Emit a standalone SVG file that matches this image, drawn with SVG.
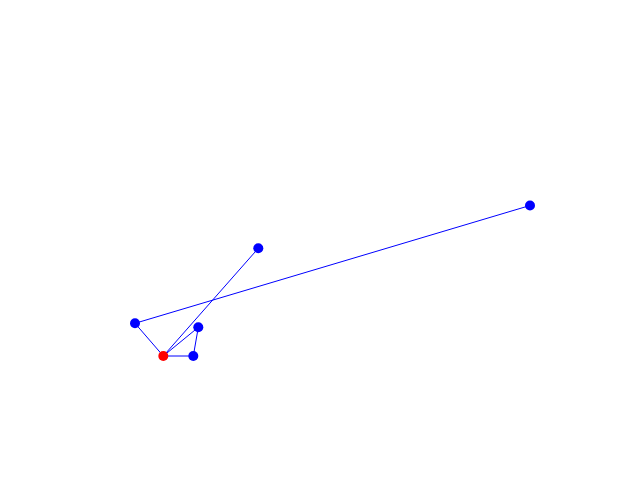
<svg xmlns="http://www.w3.org/2000/svg" width="640" height="480" viewBox="0 0 640 480">
<style>
.e{stroke:#0000ff;stroke-width:1;fill:none}
.n{fill:#0000ff}
.r{fill:#ff0000}
</style>
<rect width="640" height="480" fill="#fff"/>
<g id="edges">
<line class="e" x1="530" y1="205.5" x2="135" y2="323.3"/>
<line class="e" x1="135" y1="323.3" x2="163.3" y2="356"/>
<line class="e" x1="163.3" y1="356" x2="258.3" y2="248.3"/>
<line class="e" x1="163.3" y1="356" x2="198.3" y2="327.3"/>
<line class="e" x1="163.3" y1="356" x2="193.3" y2="356"/>
<line class="e" x1="193.3" y1="356" x2="198.3" y2="327.3"/>
</g>
<g id="n1"><circle class="n" cx="530" cy="205.5" r="5"/></g>
<g id="n2"><circle class="n" cx="258.3" cy="248.3" r="5"/></g>
<g id="n3"><circle class="n" cx="135" cy="323.3" r="5"/></g>
<g id="n4"><circle class="n" cx="198.3" cy="327.3" r="5"/></g>
<g id="n5"><circle class="n" cx="193.3" cy="356" r="5"/></g>
<g id="n6"><circle class="r" cx="163.3" cy="356" r="5"/></g>
</svg>
